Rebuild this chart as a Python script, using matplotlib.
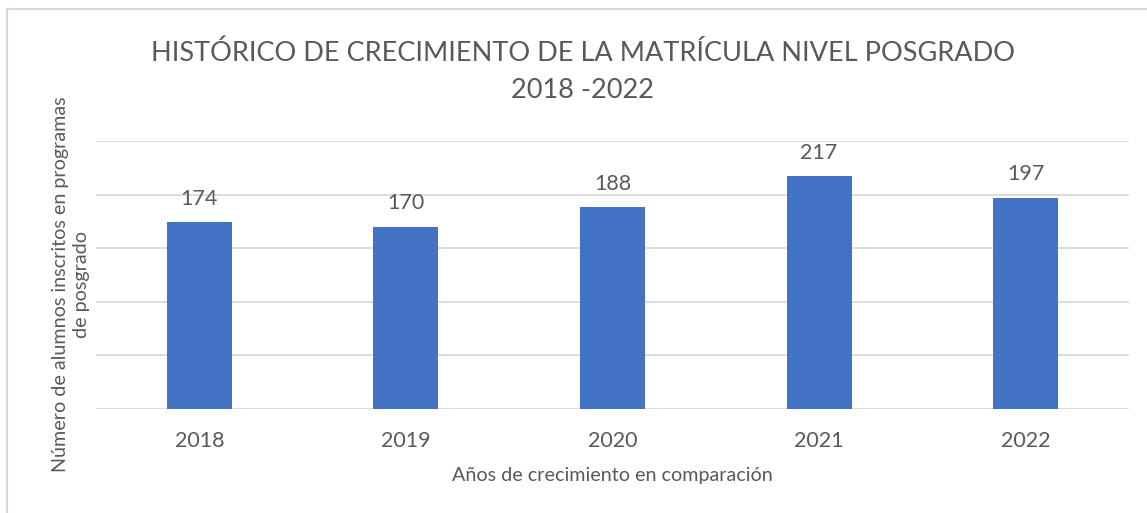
import matplotlib
matplotlib.use("Agg")
import matplotlib.pyplot as plt
from matplotlib.lines import Line2D

years = ["2018", "2019", "2020", "2021", "2022"]
students = [174, 170, 188, 217, 197]
title_text = "HISTÓRICO DE CRECIMIENTO DE LA MATRÍCULA NIVEL POSGRADO\n2018 -2022"
xlabel_text = "Años de crecimiento en comparación"
ylabel_text = "Número de alumnos inscritos en programas\nde posgrado"

TEXT = "#595959"
BAR = "#4472C4"
GRID = "#D9D9D9"
plt.rcParams['font.family'] = ['Lato', 'DejaVu Sans']

W, H = 1147, 513
fig = plt.figure(figsize=(W / 100, H / 100), dpi=100)
ax = fig.add_axes([96 / W, 104 / H, (1129 - 96) / W, (409 - 141) / H])

x = list(range(len(years)))
bars = ax.bar(x, students, width=0.314, color=BAR, zorder=3)
ax.set_xlim(-0.5, len(years) - 0.5)
ax.set_ylim(0, 250)
ax.set_yticks([0, 50, 100, 150, 200, 250])
ax.set_yticklabels([])
ax.tick_params(axis='y', length=0)
ax.yaxis.grid(True, color=GRID, linewidth=1.3, zorder=0)
ax.set_xticks(x)
ax.set_xticklabels(years, fontsize=15.5, color=TEXT)
ax.tick_params(axis='x', length=0, pad=16)
for s in ax.spines.values():
    s.set_visible(False)

for b, v in zip(bars, students):
    ax.annotate(str(v), (b.get_x() + b.get_width() / 2, v), xytext=(0, 17),
                textcoords='offset points', ha='center', va='center',
                fontsize=15.5, color=TEXT)

fig.text(583 / W, 1 - 72 / H, title_text, ha='center', va='center',
         fontsize=19.5, color=TEXT, linespacing=1.6)
fig.text(612 / W, 1 - 476 / H, xlabel_text, ha='center', va='center',
         fontsize=14.2, color=TEXT)
fig.text(71 / W, 1 - 284 / H, ylabel_text, ha='center', va='center',
         rotation=90, fontsize=14.2, color=TEXT, linespacing=1.3)

# chart area border (left and top visible)
fig.add_artist(Line2D([7 / W, 7 / W], [0, 1 - 9 / H], transform=fig.transFigure,
                      color=GRID, linewidth=1.5))
fig.add_artist(Line2D([7 / W, 1], [1 - 9 / H, 1 - 9 / H], transform=fig.transFigure,
                      color=GRID, linewidth=1.5))

fig.savefig("out.png", dpi=100, facecolor="white")
